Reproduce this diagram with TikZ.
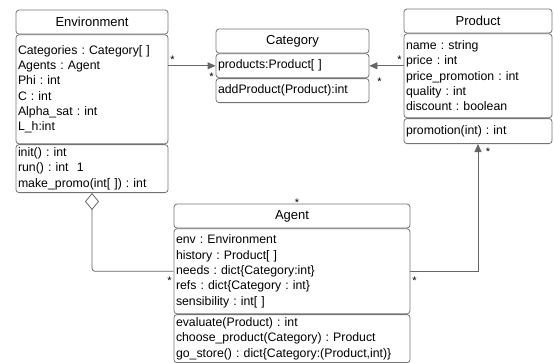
\documentclass[tikz,border=0pt]{standalone}
\usepackage{fontspec}
\setmainfont{Liberation Sans}
\usetikzlibrary{positioning,arrows.meta}
\frenchspacing
\tikzset{
classtitle/.style=
    {draw=black!55,
    line width=0.8pt,
    rounded corners=3pt,
    minimum height=24pt,
    inner sep=0pt,
    align=center,
    font=\fontsize{13}{15}\selectfont
    },
classpart/.style=
    {draw=black!55,
    line width=0.8pt,
    rounded corners=3pt,
    inner xsep=2pt,
    inner ysep=0pt,
    align=left,
    font=\fontsize{12.3}{15.3}\selectfont
    },
mult/.style=
    {font=\fontsize{11}{11}\selectfont,
    inner sep=1.5pt
    },
assoc/.style=
    {draw=black!60,
    line width=0.8pt,
    -{Triangle[length=8pt,width=7pt]}
    },
aggr/.style=
    {draw=black!60,
    line width=0.8pt,
    rounded corners=3pt,
    {Diamond[open,length=17pt,width=14pt]}-
    }}
\begin{document}
\begin{tikzpicture}[x=1pt,y=-1pt]
\useasboundingbox (0,0) rectangle (554,362);

% Environment
\node[classtitle, minimum width=152pt] (envT) at (92,22) {Environment};
\node[classpart, text width=148pt, minimum height=109pt, below=0pt of envT] (envA)
  {Categories : Category[ ]\\Agents : Agent\\Phi : int\\C : int\\Alpha\_sat : int\\L\_h:int};
\node[classpart, text width=148pt, minimum height=48pt, below=0pt of envA] (envM)
  {init() : int\\run() : int\ \ 1\\make\_promo(int[ ]) : int};

% Category
\node[classtitle, minimum width=153pt] (catT) at (292.5,41) {Category};
\node[classpart, text width=149pt, minimum height=24pt, below=0pt of catT] (catA)
  {products:Product[ ]};
\node[classpart, text width=149pt, minimum height=24pt, below=0pt of catA] (catM)
  {addProduct(Product):int};

% Product
\node[classtitle, minimum width=148pt] (prodT) at (478,21) {Product};
\node[classpart, text width=144pt, minimum height=84pt, below=0pt of prodT] (prodA)
  {name : string\\price : int\\price\_promotion : int\\quality : int\\discount : boolean};
\node[classpart, text width=144pt, minimum height=25pt, below=0pt of prodA] (prodM)
  {promotion(int) : int};

% Agent
\node[classtitle, minimum width=236pt] (agT) at (292,216) {Agent};
\node[classpart, text width=232pt, minimum height=85pt, below=0pt of agT] (agA)
  {env : Environment\\history : Product[ ]\\needs : dict\{Category:int\}\\refs : dict\{Category : int\}\\sensibility : int[ ]};
\node[classpart, text width=232pt, minimum height=48pt, below=0pt of agA] (agM)
  {evaluate(Product) : int\\choose\_product(Category) : Product\\go\_store() : dict\{Category:(Product,int)\}};
\node[mult, above=-5pt of agT, xshift=5pt] (agStar) {*};

% links
\draw[assoc] (envA.east |- catA.west) -- (catA.west)
  node[mult, pos=0, above right] {*}
  node[mult, pos=1, below left, yshift=-5pt] {*};
\draw[assoc] (prodA.west |- catA.east) -- (catA.east)
  node[mult, pos=0, above left] {*}
  node[mult, pos=1, below right, xshift=6pt, yshift=-10pt] {*};
\draw[aggr] (envM.south) |- (agA.west)
  node[mult, pos=1, below left, yshift=-4pt] {*};
\draw[assoc] (agA.east) -| (prodM.south)
  node[mult, pos=0, below right, yshift=-4pt] {*}
  node[mult, pos=1, below right, xshift=6pt, yshift=-2pt] {*};

\end{tikzpicture}
\end{document}
